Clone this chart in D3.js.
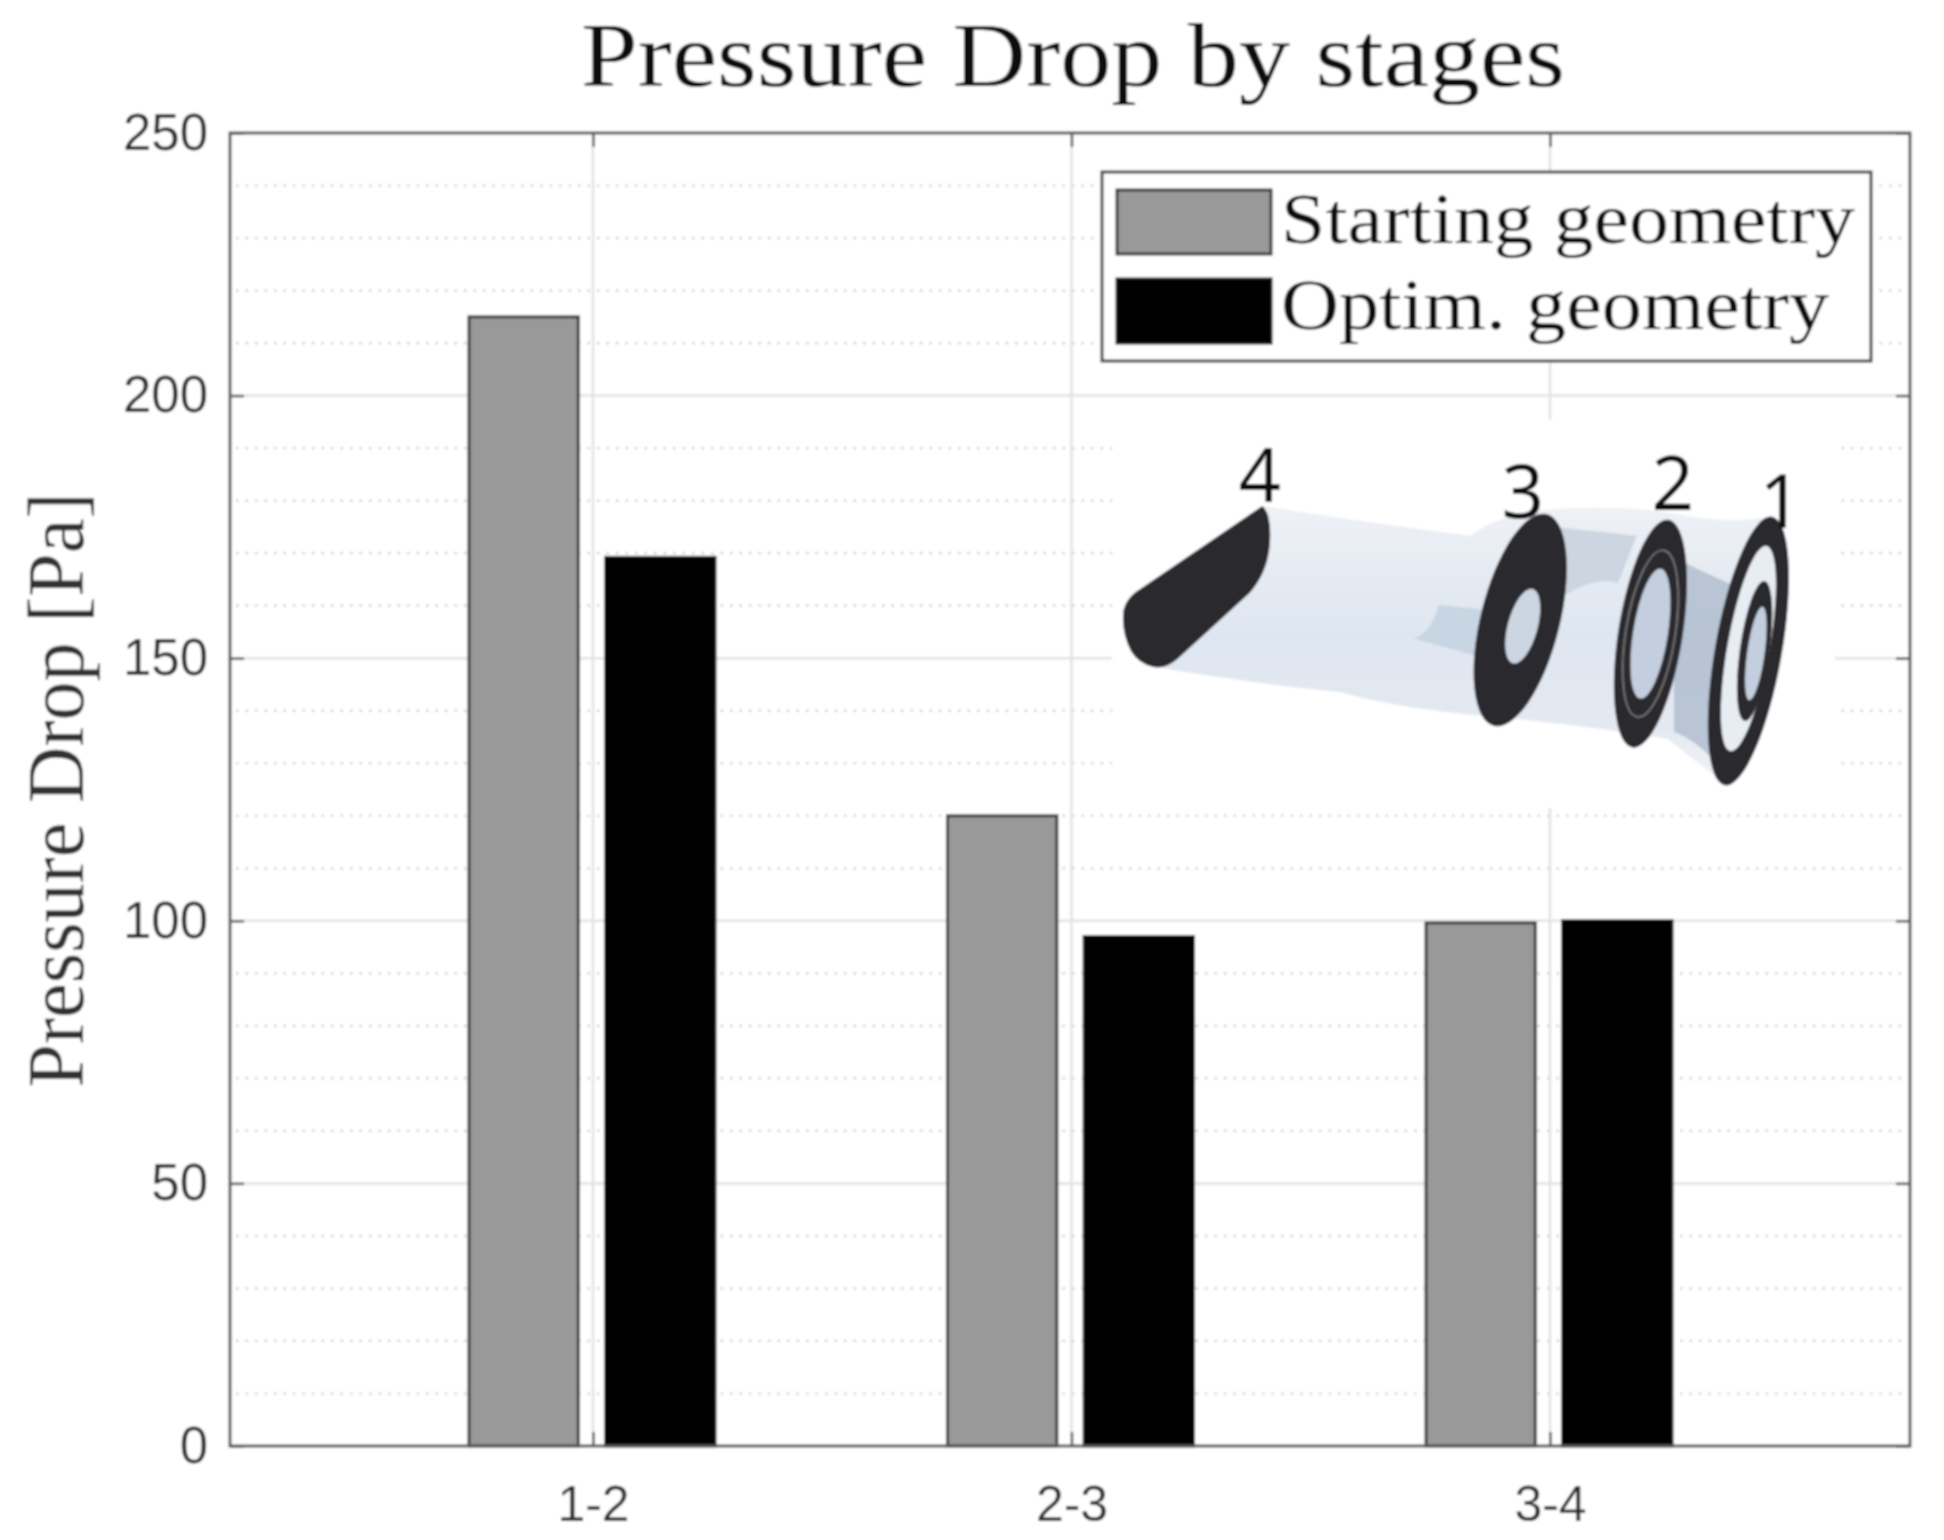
<!DOCTYPE html>
<html><head><meta charset="utf-8">
<style>html,body{margin:0;padding:0;background:#fff;overflow:hidden}svg{display:block}</style>
<script src="https://cdn.jsdelivr.net/npm/d3@7"></script></head>
<body><svg id="c" width="1944" height="1540"></svg>
<script>
const categories = ["1-2","2-3","3-4"];
const seriesNames = ["Starting geometry","Optim. geometry"];
const startingValues = [215,120,99.6];
const optimValues = [169.2,97,100];
const yMajorTicks = [0,50,100,150,200,250];
const yMinorTicks = [10,20,30,40,60,70,80,90,110,120,130,140,160,170,180,190,210,220,230,240];
const seriesFill = ["#999999","#000000"];
const seriesStroke = ["#3c3c3c","#111111"];
const M={l:230,r:1910,t:133,b:1446};

const svg=d3.select("#c");
const defs=svg.append("defs");
defs.append("filter").attr("id","soft").attr("x",0).attr("y",0).attr("width",1).attr("height",1)
  .append("feGaussianBlur").attr("stdDeviation",1.3);
const root=svg.append("g").attr("filter","url(#soft)");
root.append("rect").attr("width",1944).attr("height",1540).attr("fill","#fff");

const y=d3.scaleLinear().domain([0,250]).range([M.b,M.t]);
const x=d3.scalePoint().domain(categories).range([593,1550]);
const inner=d3.scaleBand().domain(seriesNames).range([-124,122]).paddingInner(0.2);

// grid
const g=root.append("g");
g.selectAll(".minor").data(yMinorTicks).join("line").attr("x1",M.l+6).attr("x2",M.r-6)
  .attr("y1",d=>y(d)).attr("y2",d=>y(d)).attr("stroke","#cccccc").attr("stroke-width",2.2).attr("stroke-dasharray","2.5 7");
g.selectAll(".major").data(yMajorTicks.slice(1,-1)).join("line").attr("x1",M.l).attr("x2",M.r)
  .attr("y1",d=>y(d)).attr("y2",d=>y(d)).attr("stroke","#e2e2e2").attr("stroke-width",2.5);
g.selectAll(".v").data(categories).join("line").attr("x1",d=>x(d)).attr("x2",d=>x(d))
  .attr("y1",M.t).attr("y2",M.b).attr("stroke","#e2e2e2").attr("stroke-width",2.5);

// white patch behind the embedded illustration
root.append("rect").attr("x",1112).attr("y",420).attr("width",723).attr("height",388).attr("fill","#fff");

// bars
[startingValues,optimValues].forEach((vals,i)=>{
  root.append("g").selectAll("rect").data(vals).join("rect")
    .attr("x",(d,k)=>x(categories[k])+inner(seriesNames[i]))
    .attr("width",inner.bandwidth())
    .attr("y",d=>y(d)).attr("height",d=>y(0)-y(d))
    .attr("fill",seriesFill[i]).attr("stroke",seriesStroke[i]).attr("stroke-width",3);
});

// axes
const axCol="#5c5c5c";
function styleAxis(a,fs){
  a.select(".domain").remove();
  a.selectAll(".tick line").attr("stroke",axCol).attr("stroke-width",2.5);
  a.selectAll(".tick text").attr("fill","#2e2e2e").attr("font-family","'Liberation Sans',Arial,sans-serif").attr("font-size",fs);
}
const left=root.append("g").attr("transform",`translate(${M.l},0)`)
  .call(d3.axisLeft(y).tickValues(yMajorTicks).tickSize(-14).tickPadding(22));
styleAxis(left,51);
const right=root.append("g").attr("transform",`translate(${M.r},0)`)
  .call(d3.axisRight(y).tickValues(yMajorTicks).tickSize(-14).tickFormat(""));
styleAxis(right,51);
const bottom=root.append("g").attr("transform",`translate(0,${M.b})`)
  .call(d3.axisBottom(x).tickSize(-14).tickPadding(39));
styleAxis(bottom,50);
const top_=root.append("g").attr("transform",`translate(0,${M.t})`)
  .call(d3.axisTop(x).tickSize(-14).tickFormat(""));
styleAxis(top_,50);
root.append("rect").attr("x",M.l).attr("y",M.t).attr("width",M.r-M.l).attr("height",M.b-M.t)
  .attr("fill","none").attr("stroke",axCol).attr("stroke-width",3);

// title + y label
const serif="'Liberation Serif','Times New Roman',serif";
root.append("text").text("Pressure Drop by stages").attr("x",1073).attr("y",86)
  .attr("text-anchor","middle").attr("font-family",serif).attr("font-size",92).attr("fill","#111")
  .attr("textLength",984).attr("lengthAdjust","spacingAndGlyphs");
root.append("text").text("Pressure Drop [Pa]").attr("transform","translate(83,790) rotate(-90)")
  .attr("text-anchor","middle").attr("font-family",serif).attr("font-size",80).attr("fill","#333")
  .attr("textLength",595).attr("lengthAdjust","spacingAndGlyphs");

// legend
const lg=root.append("g");
lg.append("rect").attr("x",1102).attr("y",172).attr("width",769).attr("height",189)
  .attr("fill","#fff").attr("stroke","#4a4a4a").attr("stroke-width",3);
const legendLen=[574,548];
seriesNames.forEach((n,i)=>{
  lg.append("rect").attr("x",1117).attr("y",190+i*89).attr("width",154).attr("height",64)
    .attr("fill",seriesFill[i]).attr("stroke",seriesStroke[i]).attr("stroke-width",3);
  lg.append("text").text(n).attr("x",1281).attr("y",243+i*86)
    .attr("font-family",serif).attr("font-size",72).attr("fill","#111")
    .attr("textLength",legendLen[i]).attr("lengthAdjust","spacingAndGlyphs");
});

// embedded illustration of the stages
const art=root.append("g").attr("transform","scale(1.24)");
const grad=defs.append("linearGradient").attr("id","body").attr("x1",0).attr("x2",0).attr("y1",0).attr("y2",1);
[[0,"#eef1f6"],[0.45,"#dfe6f0"],[0.8,"#e4e9f1"],[1,"#f1f4f8"]].forEach(s=>grad.append("stop").attr("offset",s[0]).attr("stop-color",s[1]));
art.append("path").attr("d","M1018,408 C1080,418 1140,426 1185,432 Q1205,418 1235,412 Q1300,406 1350,414 Q1395,424 1430,416 L1392,633 Q1365,612 1345,596 Q1280,585 1205,578 Q1130,572 1080,558 Q1000,550 932,538 Z").attr("fill","url(#body)");
art.append("path").attr("d","M1255,425 L1320,432 L1305,470 Q1285,465 1262,480 Z").attr("fill","#c5cfdb").attr("opacity",.8);
art.append("path").attr("d","M1350,450 L1415,480 L1395,630 Q1375,600 1350,590 Z").attr("fill","#aebccd").attr("opacity",.8);
art.append("path").attr("d","M1160,488 L1200,492 L1195,530 L1140,515 Q1155,510 1160,488 Z").attr("fill","#c5d3e0").attr("opacity",.9);
const dark="#2b2b2d";
art.append("path").attr("d","M1018,408 Q1026,415 1024,440 Q1022,462 1008,478 L950,531 Q940,540 930,538 Q918,535 912,525 Q904,510 906,492 Q908,484 915,478 Z").attr("fill",dark);
function ell(cx,cy,rx,ry,rot,fill,stroke,sw){
  art.append("ellipse").attr("cx",cx).attr("cy",cy).attr("rx",rx).attr("ry",ry)
    .attr("transform",`rotate(${rot} ${cx} ${cy})`).attr("fill",fill).attr("stroke",stroke||"none").attr("stroke-width",sw||0);
}
ell(1226,500,32,88,14,dark);
ell(1228,505,12,31,15,"#ccd6e3");
ell(1331,511,26,93,9,dark);
ell(1331,511,20,68,9,"none","#8b8b8f",1);
ell(1331,511,14,53,9,"#c3cfde");
ell(1410,525,27,110,10,dark);
ell(1410,523,17,84,10,"#e8edf4");
ell(1415,525,12,57,8,dark);
ell(1416,527,7,38,8,"#c3cfde");
const numFont="'Noto Sans','Open Sans',sans-serif";
[["4",1016,405],["3",1228,418],["2",1349,411],["1",1436,426]].forEach(d=>{
  art.append("text").text(d[0]).attr("x",d[1]).attr("y",d[2]).attr("text-anchor","middle")
    .attr("font-family",numFont).attr("font-size",60).attr("fill","#111");
});
</script></body></html>
